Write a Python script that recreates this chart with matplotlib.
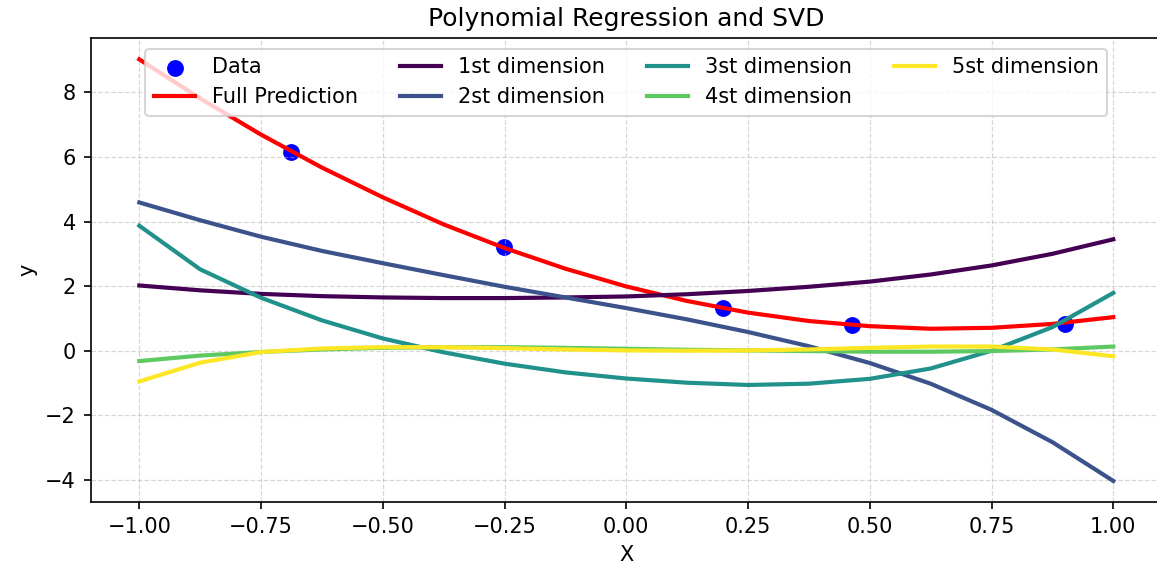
import matplotlib
matplotlib.use('Agg')
import matplotlib.pyplot as plt
import numpy as np

# observed samples
data_x = [-0.689, -0.252, 0.198, 0.464, 0.901]
data_y = [6.16, 3.20, 1.32, 0.81, 0.84]

x_grid = [-1.0, -0.875, -0.75, -0.625, -0.5, -0.375, -0.25, -0.125, 0.0,
          0.125, 0.25, 0.375, 0.5, 0.625, 0.75, 0.875, 1.0]

full_pred = [9.02, 7.81, 6.69, 5.67, 4.75, 3.91, 3.18, 2.54, 1.99,
             1.54, 1.18, 0.92, 0.76, 0.68, 0.71, 0.83, 1.04]
dim1 = [2.02, 1.87, 1.76, 1.69, 1.65, 1.63, 1.63, 1.65, 1.68,
        1.75, 1.85, 1.98, 2.14, 2.36, 2.64, 3.00, 3.45]
dim2 = [4.59, 4.04, 3.53, 3.09, 2.71, 2.34, 1.98, 1.65, 1.32,
        0.97, 0.58, 0.14, -0.38, -1.02, -1.83, -2.83, -4.03]
dim3 = [3.87, 2.52, 1.64, 0.94, 0.38, -0.05, -0.40, -0.67, -0.86,
        -0.99, -1.06, -1.02, -0.87, -0.55, 0.00, 0.73, 1.79]
dim4 = [-0.32, -0.15, -0.04, 0.04, 0.09, 0.11, 0.11, 0.09, 0.06,
        0.03, 0.01, -0.01, -0.03, -0.03, -0.01, 0.04, 0.13]
dim5 = [-0.95, -0.37, -0.04, 0.07, 0.11, 0.11, 0.08, 0.04, 0.01,
        0.00, 0.01, 0.04, 0.09, 0.13, 0.13, 0.04, -0.17]

dims = [dim1, dim2, dim3, dim4, dim5]
dim_labels = ['1st dimension', '2st dimension', '3st dimension',
              '4st dimension', '5st dimension']

fig = plt.figure(figsize=(1157 / 150, 568 / 150), dpi=150)
ax = fig.add_axes([0.0783, 0.1162, 0.926, 0.8164])

ax.scatter(data_x, data_y, color='blue', s=50, label='Data')
ax.plot(x_grid, full_pred, color='red', linewidth=2, label='Full Prediction')

colors = plt.cm.viridis(np.linspace(0, 1, len(dims)))
for vals, lab, c in zip(dims, dim_labels, colors):
    ax.plot(x_grid, vals, color=c, linewidth=2, label=lab)

ax.set_title('Polynomial Regression and SVD')
ax.set_xlabel('X')
ax.set_ylabel('y')
ax.legend(loc='upper center', ncol=4)
ax.grid(True, linestyle='--', linewidth=0.6, alpha=0.5)

fig.savefig('out.png', dpi=150)
